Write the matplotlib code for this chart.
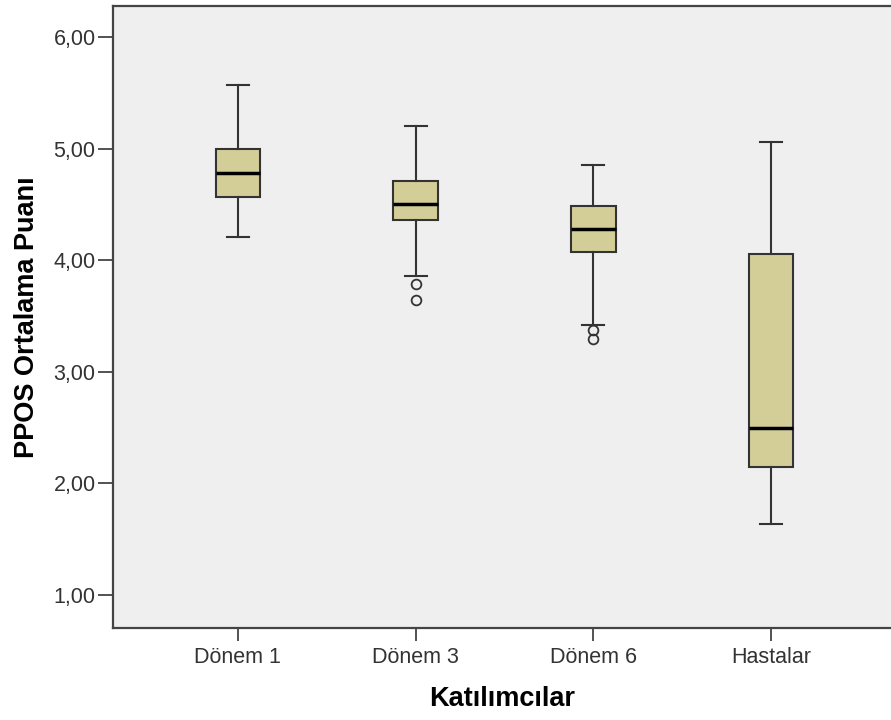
import matplotlib.pyplot as plt

plt.rcParams['font.family'] = ['Liberation Sans', 'DejaVu Sans']

groups = ["Dönem 1", "Dönem 3", "Dönem 6", "Hastalar"]
whislo = [4.21, 3.86, 3.42, 1.64]
q1 = [4.57, 4.36, 4.07, 2.15]
med = [4.78, 4.50, 4.28, 2.50]
q3 = [5.00, 4.71, 4.49, 4.06]
whishi = [5.57, 5.20, 4.85, 5.06]
fliers = [[], [3.79, 3.64], [3.375, 3.29], []]

stats = []
for i, g in enumerate(groups):
    stats.append(dict(label=g, whislo=whislo[i], q1=q1[i], med=med[i],
                      q3=q3[i], whishi=whishi[i], fliers=fliers[i]))

fig = plt.figure(figsize=(8.91, 7.2), dpi=100)
ax = fig.add_axes([113/891, 1-628/720, 1-113/891, 622/720])
ax.set_facecolor("#efefef")

edge = "#333333"
ax.bxp(stats, positions=[1, 2, 3, 4], widths=0.25, patch_artist=True,
       boxprops=dict(facecolor="#d3ce98", edgecolor=edge, linewidth=1.5),
       medianprops=dict(color="black", linewidth=2.5),
       whiskerprops=dict(color=edge, linewidth=1.5),
       capprops=dict(color=edge, linewidth=1.5),
       flierprops=dict(marker="o", markerfacecolor="none", markeredgecolor=edge,
                       markersize=7, markeredgewidth=1.3))

ax.set_xlim(0.297, 4.675)
ax.set_ylim(0.704, 6.278)
ax.set_yticks([1, 2, 3, 4, 5, 6])
ax.set_yticklabels(["1,00", "2,00", "3,00", "4,00", "5,00", "6,00"])

for s in ["left", "bottom", "top"]:
    ax.spines[s].set_color("#444444")
    ax.spines[s].set_linewidth(1.6)
ax.spines["right"].set_visible(False)
ax.tick_params(axis="both", colors="#444444", labelcolor="#333333",
               labelsize=15.5, width=1.3)
ax.tick_params(axis="y", length=11, pad=1.5)
ax.tick_params(axis="x", length=9, pad=5)

ax.set_xlabel("Katılımcılar", fontsize=19.5, fontweight="bold", labelpad=13)
ax.set_ylabel("PPOS Ortalama Puanı", fontsize=19.5, fontweight="bold", labelpad=10)

fig.savefig("out.png", dpi=100)
